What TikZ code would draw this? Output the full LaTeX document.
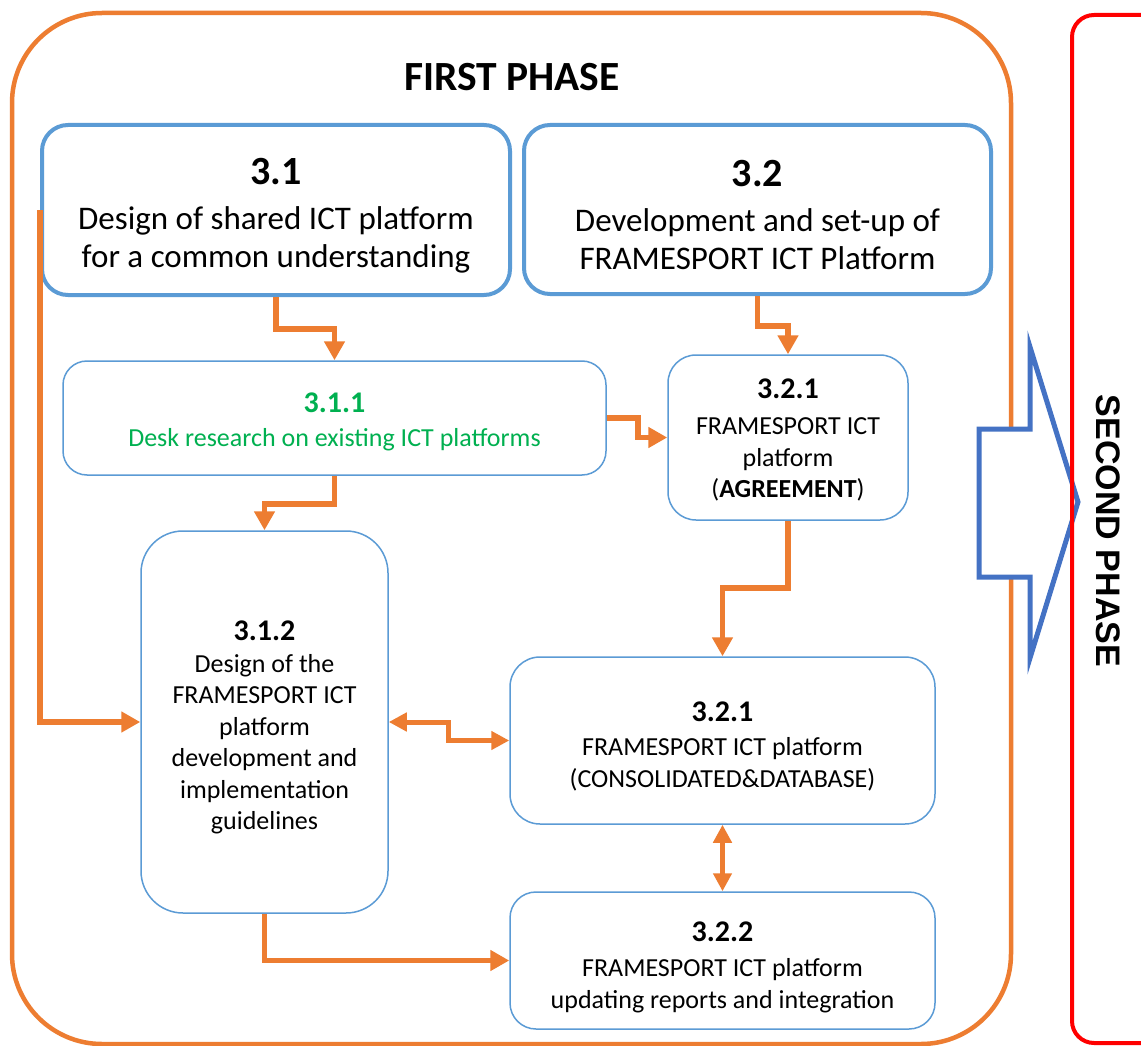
\documentclass[tikz,border=0pt]{standalone}
\usepackage{fontspec}
\setmainfont{Carlito}
\newfontfamily\arialfont{Liberation Sans}
\usetikzlibrary{arrows.meta}
\definecolor{orng}{RGB}{237,125,49}
\definecolor{bbox}{RGB}{91,155,213}
\definecolor{grn}{RGB}{0,176,80}
\definecolor{barrow}{RGB}{68,114,196}
\definecolor{rd}{RGB}{255,0,0}
\newcommand{\lift}[1]{\rule{0pt}{#1}}
\begin{document}
\begin{tikzpicture}[x=1pt,y=-1pt,
  bigbox/.style={draw=bbox,line width=4pt,rounded corners=26pt,inner sep=0pt,align=center,
    font=\fontsize{33}{38}\selectfont},
  subbox/.style={draw=bbox,line width=1.5pt,inner sep=0pt,align=center,
    font=\fontsize{26}{31.5}\selectfont},
  flow/.style={draw=orng,line width=5.5pt,-{Triangle[width=20pt,length=19pt]}},
  flowtwo/.style={draw=orng,line width=5pt,{Triangle[width=18pt,length=18pt]}-{Triangle[width=18pt,length=18pt]}},
]
\useasboundingbox (0,0) rectangle (1141,1046);
\fill[white] (0,0) rectangle (1141,1046);

% outer first phase frame
\node[draw=orng,line width=4.5pt,rounded corners=90pt,inner sep=0pt,
  minimum width=999pt,minimum height=1031pt] (phase1) at (511.5,528.5) {};
\node[font=\fontsize{41.5}{48}\selectfont\bfseries] (p1) at (512,77) {FIRST PHASE};

% main boxes
\node[bigbox,minimum width=468pt,minimum height=170pt] (b31) at (276,210)
  {\lift{37pt}{\fontsize{40}{42}\selectfont\bfseries 3.1}\\[7pt]Design of shared ICT platform\\for a common understanding};
\node[bigbox,minimum width=467pt,minimum height=169pt] (b32) at (757.5,209.5)
  {\lift{37pt}{\fontsize{40}{42}\selectfont\bfseries 3.2}\\[7pt]Development and set-up of\\FRAMESPORT ICT Platform};

% sub boxes
\node[subbox,rounded corners=24pt,minimum width=543pt,minimum height=114pt,text=grn] (b311) at (334.5,418)
  {\lift{27pt}{\fontsize{30}{34}\selectfont\bfseries 3.1.1}\\[2pt]Desk research on existing ICT platforms};
\node[subbox,rounded corners=28pt,minimum width=240pt,minimum height=165pt] (b321a) at (788,437.5)
  {\lift{25pt}{\fontsize{30}{34}\selectfont\bfseries 3.2.1}\\[5pt]FRAMESPORT ICT\\platform\\(\textbf{AGREEMENT})};
\node[subbox,rounded corners=42pt,minimum width=247pt,minimum height=382pt] (b312) at (264.5,722)
  {\lift{31pt}{\fontsize{30}{34}\selectfont\bfseries 3.1.2}\\[0pt]Design of the\\FRAMESPORT ICT\\platform\\development and\\implementation\\guidelines};
\node[subbox,rounded corners=30pt,minimum width=425pt,minimum height=167pt] (b321b) at (722.5,740.5)
  {\lift{31pt}{\fontsize{30}{34}\selectfont\bfseries 3.2.1}\\[3pt]FRAMESPORT ICT platform\\(CONSOLIDATED\&DATABASE)};
\node[subbox,rounded corners=26pt,minimum width=425pt,minimum height=137pt] (b322) at (722.5,960.5)
  {\lift{33pt}{\fontsize{30}{34}\selectfont\bfseries 3.2.2}\\[4pt]FRAMESPORT ICT platform\\updating reports and integration};

% connectors
\draw[flow] (b31.south) -- ++(0,32) -| (b311.north);
\draw[flow] (b311.south) -- ++(0,28) -| (b312.north);
\draw[flow] (b32.south) -- ++(0,30) -| (b321a.north);
\draw[flow] (b311.east) -- ++(31,0) |- (b321a.west);
\draw[flow] (b321a.south) -- ++(0,67) -| (b321b.north);
\draw[flowtwo] (b312.east) -- ++(60,0) |- (b321b.west);
\draw[flowtwo] (b321b.south) -- (b322.north);
\draw[flow] (b312.south) |- (b322.west);
\draw[flow] (b31.west) |- (b312.west);

% big arrow to second phase
\draw[barrow,line width=5pt,fill=white,line join=miter]
  (979,429) -- (1030,429) -- (1030,347) -- (1078,502) -- (1030,658) -- (1030,577) -- (979,577) -- cycle;

% second phase frame
\draw[rd,line width=4pt,rounded corners=22pt] (1072,15) rectangle (1180,1043);
\node[rotate=-90,font=\arialfont\bfseries\fontsize{34}{40}\selectfont] (p2) at (1108,531) {SECOND PHASE};
\end{tikzpicture}
\end{document}
